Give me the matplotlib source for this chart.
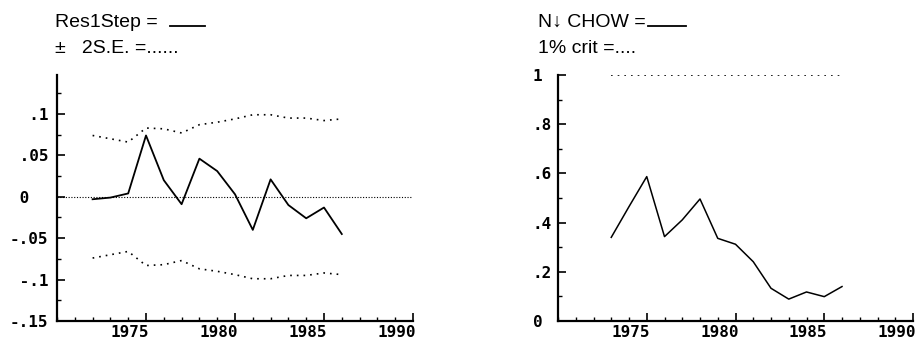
import matplotlib.pyplot as plt
from matplotlib.lines import Line2D
from matplotlib.transforms import ScaledTranslation

# residuals, one step ahead (annual)
jahre_res = [1972, 1973, 1974, 1975, 1976, 1977, 1978, 1979, 1980, 1981, 1982, 1983, 1984, 1985, 1986]
res1step = [-0.003, -0.001, 0.004, 0.074, 0.020, -0.009, 0.046, 0.031, 0.003, -0.040, 0.021, -0.010, -0.026, -0.013, -0.045]
due_se = [0.074, 0.070, 0.066, 0.083, 0.082, 0.077, 0.087, 0.090, 0.094, 0.099, 0.099, 0.095, 0.095, 0.092, 0.094]

# break-point chow tests
jahre_chow = [1973, 1974, 1975, 1976, 1977, 1978, 1979, 1980, 1981, 1982, 1983, 1984, 1985, 1986]
chow = [0.340, 0.465, 0.587, 0.343, 0.411, 0.496, 0.336, 0.312, 0.241, 0.133, 0.089, 0.118, 0.099, 0.140]
crit_1pct = [1.0] * len(jahre_chow)

x_ticks = [1975, 1980, 1985, 1990]
x_labels = ['1975', '1980', '1985', '1990']
y_ticks_res = [-0.15, -0.1, -0.05, 0, 0.05, 0.1]
y_labels_res = ['-.15', ' -.1', '-.05', ' 0', ' .05', '  .1']
y_ticks_chow = [0, 0.2, 0.4, 0.6, 0.8, 1.0]
y_labels_chow = ['0', '.2', '.4', '.6', '.8', '1']

tick_font = dict(family='DejaVu Sans Mono', fontweight='bold', fontsize=11.5)
titel_font = dict(family=['Liberation Sans', 'DejaVu Sans'], fontsize=14)

fig = plt.figure(figsize=(9.19, 3.41), dpi=100)
ax1 = fig.add_axes([57 / 919, 20 / 341, 356 / 919, 246 / 341])
ax2 = fig.add_axes([558 / 919, 20 / 341, 355 / 919, 246 / 341])


def stil(ax):
    for s in ['top', 'right']:
        ax.spines[s].set_visible(False)
    for s in ['left', 'bottom']:
        ax.spines[s].set_linewidth(1.6)
    ax.set_xlim(1970, 1990)
    ax.set_xticks(x_ticks)
    ax.set_xticks(range(1970, 1991), minor=True)
    ax.set_xticklabels(x_labels, **tick_font)
    ax.tick_params(axis='both', which='major', direction='in', length=6, width=1.2)
    ax.tick_params(axis='both', which='minor', direction='in', length=3, width=1.0)
    ax.tick_params(axis='x', pad=3)
    verschiebung = ScaledTranslation(3 / 100, 0, fig.dpi_scale_trans)
    for lab in ax.get_xticklabels():
        lab.set_horizontalalignment('right')
        lab.set_transform(lab.get_transform() + verschiebung)


# linkes Bild
ax1.plot(jahre_res, res1step, color='black', lw=1.3)
ax1.plot(jahre_res, due_se, color='black', lw=1.2, linestyle=(0, (1, 3)))
ax1.plot(jahre_res, [-v for v in due_se], color='black', lw=1.2, linestyle=(0, (1, 3)))
ax1.axhline(0, color='black', lw=0.8, linestyle=(0, (1, 1.5)))
ax1.set_ylim(-0.15, 0.147)
stil(ax1)
ax1.set_yticks(y_ticks_res)
ax1.set_yticks([-0.125, -0.075, -0.025, 0.025, 0.075, 0.125], minor=True)
ax1.set_yticklabels(y_labels_res, ha='left', **tick_font)
ax1.tick_params(axis='y', pad=34)

# rechtes Bild
ax2.plot(jahre_chow, chow, color='black', lw=1.1)
ax2.plot(jahre_chow, crit_1pct, color='black', lw=1.2, linestyle=(0, (1, 3)))
ax2.set_ylim(0, 1.0)
stil(ax2)
ax2.set_yticks(y_ticks_chow)
ax2.set_yticks([0.1, 0.3, 0.5, 0.7, 0.9], minor=True)
ax2.set_yticklabels(y_labels_chow, ha='left', **tick_font)
ax2.tick_params(axis='y', pad=18)

# Legenden oben
fig.text(55 / 919, 1 - 27 / 341, 'Res1Step =', va='baseline', **titel_font)
fig.add_artist(Line2D([170 / 919, 205 / 919], [1 - 26 / 341] * 2, color='black', lw=1.3))
fig.text(55 / 919, 1 - 53 / 341, '\u00b1   2S.E. =......', va='baseline', **titel_font)

fig.text(538 / 919, 1 - 27 / 341, 'N\u2193 CHOW =', va='baseline', **titel_font)
fig.add_artist(Line2D([648 / 919, 686 / 919], [1 - 26 / 341] * 2, color='black', lw=1.3))
fig.text(538 / 919, 1 - 53 / 341, '1% crit =....', va='baseline', **titel_font)

fig.savefig('out.png', dpi=100)
